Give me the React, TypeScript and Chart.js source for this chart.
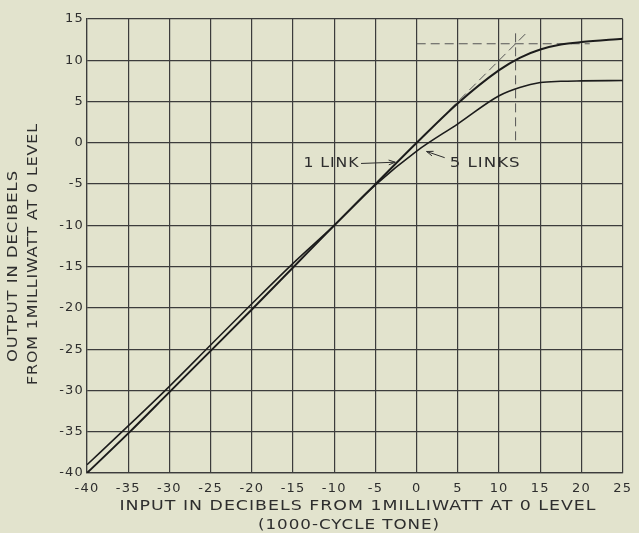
import React, { useEffect, useRef } from "react";
import { Chart, registerables } from "chart.js";

Chart.register(...registerables);

// ---- data ----
const inputDb = [-40, -35, -30, -25, -20, -15, -10, -5, 0, 5, 10, 12.5, 15, 17.5, 20, 25];
const oneLinkOut = [-40, -35.2, -30.2, -25.2, -20.2, -15.1, -10, -5, 0, 4.8, 8.8, 10.3, 11.3, 11.9, 12.2, 12.6];
const fiveLinksOut = [-39, -34.3, -29.5, -24.5, -19.5, -14.6, -10, -5.1, -1, 2.3, 5.7, 6.7, 7.3, 7.45, 7.5, 7.55];

const xTickValues = [-40, -35, -30, -25, -20, -15, -10, -5, 0, 5, 10, 15, 20, 25];
const yTickValues = [-40, -35, -30, -25, -20, -15, -10, -5, 0, 5, 10, 15];

// construction (dashed) lines
const hDashX = [0, 21];
const hDashY = [12, 12];
const vDashX = [12, 12];
const vDashY = [0.3, 13.5];
const dDashX = [4, 13.5];
const dDashY = [4, 13.5];

const xTitle = ["INPUT IN DECIBELS FROM 1MILLIWATT AT 0 LEVEL", "(1000-CYCLE TONE)"];
const yTitle = ["OUTPUT IN DECIBELS", "FROM 1MILLIWATT AT 0 LEVEL"];
const label1 = "1 LINK";
const label5 = "5 LINKS";

const BG = "#e2e3cd";
const INK = "#2e2e2e";
const FONT = '"DejaVu Sans", sans-serif';

const pts = (xs: number[], ys: number[]) => xs.map((x, i) => ({ x, y: ys[i] }));

// draw text centred at (x, y), stretched horizontally to the target width
function fitText(ctx: CanvasRenderingContext2D, text: string, x: number, y: number, target: number) {
  ctx.save();
  (ctx as any).letterSpacing = "0.8px";
  const w = ctx.measureText(text).width;
  const sx = target / w;
  ctx.translate(x - target / 2, y);
  ctx.scale(sx, 1);
  ctx.textAlign = "left";
  ctx.fillText(text, 0, 0);
  ctx.restore();
}

const decor = {
  id: "decor",
  beforeDraw(chart: any) {
    const ctx = chart.ctx;
    ctx.save();
    ctx.fillStyle = BG;
    ctx.fillRect(0, 0, chart.width, chart.height);
    ctx.restore();
    (ctx as any).letterSpacing = "1.2px";
  },
  afterDraw(chart: any) {
    const ctx = chart.ctx;
    const xs = chart.scales.x;
    const ys = chart.scales.y;
    ctx.save();
    ctx.fillStyle = INK;
    ctx.strokeStyle = INK;
    ctx.textBaseline = "middle";
    ctx.font = "14px " + FONT;
    fitText(ctx, xTitle[0], 358, 506, 477);
    fitText(ctx, xTitle[1], 349, 525, 182);
    ctx.save();
    ctx.translate(13, 266);
    ctx.rotate(-Math.PI / 2);
    fitText(ctx, yTitle[0], 0, 0, 192);
    ctx.restore();
    ctx.save();
    ctx.translate(33, 254);
    ctx.rotate(-Math.PI / 2);
    fitText(ctx, yTitle[1], 0, 0, 262);
    ctx.restore();

    // labels with arrows
    ctx.font = "13.5px " + FONT;
    const l1r = xs.getPixelForValue(-6.95);
    const ly = ys.getPixelForValue(-2.5);
    fitText(ctx, label1, l1r - 28, ly, 56);
    const l5l = xs.getPixelForValue(4.0);
    fitText(ctx, label5, l5l + 35.5, ly, 71);

    const arrow = (x1: number, y1: number, x2: number, y2: number) => {
      ctx.lineWidth = 1;
      ctx.beginPath();
      ctx.moveTo(x1, y1);
      ctx.lineTo(x2, y2);
      ctx.stroke();
      const a = Math.atan2(y2 - y1, x2 - x1);
      const L = 7;
      ctx.beginPath();
      ctx.moveTo(x2 - L * Math.cos(a - 0.35), y2 - L * Math.sin(a - 0.35));
      ctx.lineTo(x2, y2);
      ctx.lineTo(x2 - L * Math.cos(a + 0.35), y2 - L * Math.sin(a + 0.35));
      ctx.stroke();
    };
    arrow(
      xs.getPixelForValue(-6.75), ys.getPixelForValue(-2.5),
      xs.getPixelForValue(-2.6), ys.getPixelForValue(-2.35)
    );
    arrow(
      xs.getPixelForValue(3.4), ys.getPixelForValue(-1.8),
      xs.getPixelForValue(1.2), ys.getPixelForValue(-1.05)
    );
    ctx.restore();
  },
};

export default function App() {
  const ref = useRef<HTMLCanvasElement | null>(null);
  useEffect(() => {
    document.body.style.margin = "0";
    document.body.style.background = BG;
    const canvas = ref.current;
    if (!canvas) return;
    const dashed = (xs: number[], ys: number[]) => ({
      data: pts(xs, ys),
      borderColor: "#555",
      borderWidth: 1,
      borderDash: [9, 5],
      pointRadius: 0,
      fill: false,
      tension: 0,
    });
    const chart = new Chart(canvas, {
      type: "scatter",
      data: {
        datasets: [
          {
            label: label1,
            data: pts(inputDb, oneLinkOut),
            showLine: true,
            borderColor: "#1c1c1c",
            borderWidth: 2,
            pointRadius: 0,
            cubicInterpolationMode: "monotone",
          } as any,
          {
            label: label5,
            data: pts(inputDb, fiveLinksOut),
            showLine: true,
            borderColor: "#1c1c1c",
            borderWidth: 1.6,
            pointRadius: 0,
            cubicInterpolationMode: "monotone",
          } as any,
          { ...dashed(hDashX, hDashY), showLine: true } as any,
          { ...dashed(vDashX, vDashY), showLine: true } as any,
          { ...dashed(dDashX, dDashY), showLine: true } as any,
        ],
      },
      options: {
        responsive: false,
        animation: false,
        devicePixelRatio: 1,
        layout: { padding: { left: 0, top: 19, right: 11, bottom: 0 } },
        plugins: {
          legend: { display: false },
          tooltip: { enabled: false },
          title: { display: false },
        },
        scales: {
          x: {
            type: "linear",
            min: -40,
            max: 25,
            afterBuildTicks: (s: any) => {
              s.ticks = xTickValues.map((v) => ({ value: v }));
            },
            afterFit: (s: any) => {
              s.height = 60;
            },
            ticks: {
              padding: 8,
              color: INK,
              font: { family: FONT, size: 13 },
              maxRotation: 0,
              autoSkip: false,
              callback: (v: any) => String(v),
            },
            grid: { color: "#3c3c3c", lineWidth: 1.2, drawTicks: false },
            border: { color: "#3c3c3c", width: 1.2 },
          },
          y: {
            type: "linear",
            min: -40,
            max: 15,
            afterBuildTicks: (s: any) => {
              s.ticks = yTickValues.map((v) => ({ value: v }));
            },
            afterFit: (s: any) => {
              s.width = 87;
            },
            ticks: {
              padding: 3,
              color: INK,
              font: { family: FONT, size: 13 },
              autoSkip: false,
              callback: (v: any) => String(v),
            },
            grid: { color: "#3c3c3c", lineWidth: 1.2, drawTicks: false },
            border: { color: "#3c3c3c", width: 1.2 },
          },
        },
      } as any,
      plugins: [decor],
    });
    return () => chart.destroy();
  }, []);
  return (
    <div style={{ position: "fixed", left: 0, top: 0, width: 639, height: 533, background: BG }}>
      <canvas ref={ref} width={639} height={533} style={{ display: "block", width: 639, height: 533 }} />
    </div>
  );
}
